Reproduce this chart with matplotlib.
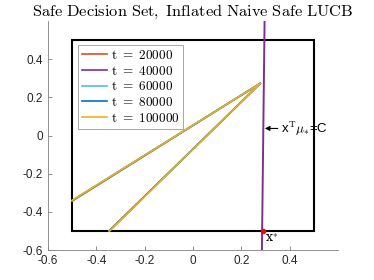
import numpy as np
import matplotlib.pyplot as plt
from matplotlib.patches import Rectangle

# series labels and colors (MATLAB default order)
labels = ['t = 20000', 't = 40000', 't = 60000', 't = 80000', 't = 100000']
colors = ['#D95319', '#7E2F8E', '#4DBEEE', '#0072BD', '#EDB120']

# safe set boundary: apex and two end points for each t
apex_x = [0.279, 0.279, 0.279, 0.279, 0.279]
apex_y = [0.274, 0.274, 0.274, 0.274, 0.274]
upper_end_x = [-0.5, -0.5, -0.5, -0.5, -0.5]
upper_end_y = [-0.344, -0.342, -0.341, -0.341, -0.340]
lower_end_x = [-0.348, -0.347, -0.346, -0.346, -0.345]
lower_end_y = [-0.5, -0.5, -0.5, -0.5, -0.5]

# constraint line x^T mu_* = C
con_x = [0.285, 0.296]
con_y = [-0.6, 0.6]
x_star = (0.2875, -0.5)

plt.rcParams['mathtext.fontset'] = 'cm'
fig = plt.figure(figsize=(3.74, 2.8), dpi=100)
ax = fig.add_axes([0.128, 0.107, 0.776, 0.818])

ax.add_patch(Rectangle((-0.5, -0.5), 1.0, 1.0, fill=False, edgecolor='black', lw=1.5, zorder=2))

for i in range(len(labels)):
    lab = r'$\mathrm{' + labels[i].replace(' ', r'\ ') + '}$'
    if labels[i] == 't = 40000':
        # purple series hidden under the constraint line
        ax.plot([], [], color=colors[i], lw=1.2, label=lab)
        continue
    ax.plot([upper_end_x[i], apex_x[i], lower_end_x[i]],
            [upper_end_y[i], apex_y[i], lower_end_y[i]],
            color=colors[i], lw=1.2, zorder=3, label=lab)

ax.plot(con_x, con_y, color=colors[1], lw=1.4, zorder=4)
ax.plot(*x_star, 'o', color='red', ms=3, zorder=5)
ax.text(x_star[0] + 0.012, x_star[1] - 0.005, r'x$^{*}$', fontsize=9, family='DejaVu Serif',
        va='top', ha='left')

ax.annotate(r'x$^{\mathrm{T}}\mu_{*}$=C', xy=(0.297, 0.037), xytext=(0.362, 0.037),
            fontsize=9.5, family='Liberation Sans', va='center', ha='left',
            arrowprops=dict(arrowstyle='-|>', color='black', lw=0.8, mutation_scale=7,
                            shrinkA=0, shrinkB=0))

ax.set_xlim(-0.6, 0.6)
ax.set_ylim(-0.6, 0.6)
ax.set_xticks([-0.6, -0.4, -0.2, 0, 0.2, 0.4])
ax.set_yticks([-0.6, -0.4, -0.2, 0, 0.2, 0.4])
ax.set_xticklabels(['-0.6', '-0.4', '-0.2', '0', '0.2', '0.4'])
ax.set_yticklabels(['-0.6', '-0.4', '-0.2', '0', '0.2', '0.4'])
ax.tick_params(direction='in', length=3, width=0.6, color='#808080', labelsize=8.5,
               labelcolor='#262626')
for lab in ax.get_xticklabels() + ax.get_yticklabels():
    lab.set_family('Liberation Sans')
ax.spines['top'].set_visible(False)
ax.spines['right'].set_visible(False)
ax.spines['left'].set_color('#808080')
ax.spines['bottom'].set_color('#808080')
ax.spines['left'].set_linewidth(0.6)
ax.spines['bottom'].set_linewidth(0.6)

ax.set_title(r'$\mathrm{Safe\ Decision\ Set,\ Inflated\ Naive\ Safe\ LUCB}$', fontsize=11.8, pad=4)

leg = ax.legend(loc='upper left', bbox_to_anchor=(0.103, 0.895), fontsize=9.5, frameon=True,
                fancybox=False, edgecolor='#808080', handlelength=1.9, handletextpad=0.3,
                labelspacing=0.2, borderpad=0.3, borderaxespad=0)
leg.get_frame().set_linewidth(0.6)

fig.savefig('out.png', dpi=100)
